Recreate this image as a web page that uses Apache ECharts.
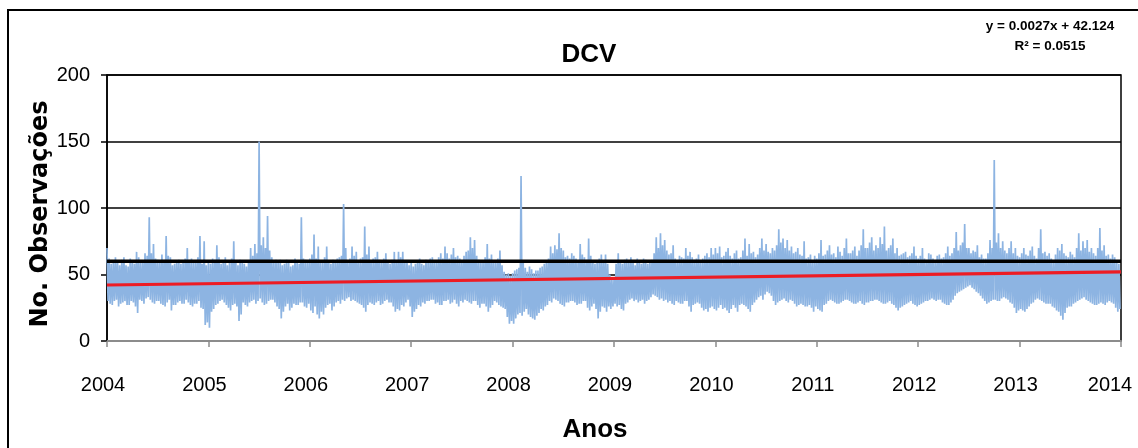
<!DOCTYPE html>
<html>
<head>
<meta charset="utf-8">
<script src="https://cdn.jsdelivr.net/npm/echarts@6/dist/echarts.min.js"></script>
<style>
html,body{margin:0;padding:0;background:#fff;}
#c{width:1138px;height:448px;}
</style>
</head>
<body>
<div id="c"></div>
<script>
// Tick labels (years)
const yearLabels = ['2004','2005','2006','2007','2008','2009','2010','2011','2012','2013','2014'];
const y2004 = [70,30,58,27,63,31,57,28,63,30,56,27,60,29,67,21,59,30,66,32,93,31,73,28,61,30,65,27,79,29,63,23,58,27,61,30,59,28,70,29,62,26,60,28,79,25,75,12];
const y2005 = [60,10,62,24,72,28,58,31,63,27,59,23,75,28,57,15,60,29,56,26,70,30,73,28,150,32,78,27,94,30,63,31,61,26,61,17,58,26,59,23,57,28,60,27,93,29,61,25];
const y2006 = [62,23,80,26,71,17,60,20,71,27,58,23,60,29,63,28,103,30,59,33,71,31,67,29,62,27,86,22,71,29,62,27,67,30,60,28,66,31,58,29,67,22,67,23,67,26,60,31];
const y2007 = [60,18,58,24,62,26,57,28,59,30,63,31,60,29,66,27,71,30,62,28,70,31,64,26,60,29,67,30,78,28,76,30,61,25,60,28,73,22,65,27,59,29,68,26,52,24,51,13];
const y2008 = [51,13,54,20,124,19,55,24,56,18,51,16,53,21,56,23,60,27,71,29,72,31,81,28,68,26,64,29,66,30,62,27,73,28,63,30,77,23,60,28,59,17,65,26,65,22,50,24];
const y2009 = [46,28,66,27,58,23,62,29,63,32,57,31,60,30,62,28,58,31,61,35,78,33,81,32,76,31,65,30,72,27,60,29,63,28,70,30,67,22,61,28,65,28,62,23,66,22,70,26];
const y2010 = [70,23,71,27,64,25,70,21,62,27,68,22,63,28,77,26,73,22,67,29,65,33,77,31,73,37,66,34,68,27,84,30,77,32,76,29,71,30,67,26,65,28,75,26,63,27,60,22];
const y2011 = [62,24,76,22,65,28,72,31,66,29,71,28,64,30,77,31,66,29,71,28,68,30,84,27,70,29,78,30,72,31,78,29,86,28,70,30,77,27,70,23,65,26,67,28,64,30,71,27];
const y2012 = [62,27,70,29,61,30,65,32,60,30,65,31,63,28,71,27,66,31,82,36,72,38,88,40,70,42,68,39,72,36,65,32,62,28,76,30,136,31,81,30,75,33,66,31,75,28,70,21];
const y2013 = [63,24,70,22,64,26,71,29,62,32,84,30,67,28,66,28,60,25,70,22,73,16,64,25,67,26,63,29,81,31,75,33,76,30,70,28,64,27,85,29,72,27,65,30,65,28,60,22];
const e2004 = [62,28,59,30,60,26,61,29,57,27,62,30,58,26,63,31,60,28,64,33,66,29,62,30,59,28,61,26,64,31,57,27,60,29,58,28,62,31,61,27,59,28,63,30,58,24,57,14];
const e2005 = [58,22,61,27,63,30,60,29,57,25,62,27,59,26,61,20,58,27,60,29,64,31,66,30,72,29,70,28,68,31,59,29,60,24,57,22,61,28,56,25,62,27,58,29,62,26,60,28];
const e2006 = [65,21,62,20,59,22,63,25,60,28,61,26,62,30,64,31,70,32,62,30,64,30,60,28,63,25,65,27,60,28,63,29,61,27,62,30,59,29,61,26,60,24,63,27,60,29,57,26];
const e2007 = [56,22,60,27,58,29,61,30,62,31,60,28,63,27,62,30,66,31,65,29,63,28,62,30,64,31,68,29,70,30,64,27,59,28,63,26,62,25,60,30,62,27,57,25,50,18,49,15];
const e2008 = [53,17,55,21,60,22,52,20,54,17,53,19,55,24,58,26,62,30,66,32,69,30,70,27,63,29,62,30,64,29,60,28,65,30,61,25,64,26,58,24,62,22,60,25,58,26,46,26];
const e2009 = [58,26,60,24,61,28,59,31,60,30,62,29,58,31,61,30,60,33,66,34,70,31,72,30,68,29,66,28,62,30,64,28,62,30,64,26,63,27,62,29,60,25,64,24,63,25,65,24];
const e2010 = [66,25,63,24,67,23,64,24,66,25,62,27,68,27,64,24,66,27,63,31,70,34,68,35,67,36,70,30,72,29,74,31,70,30,68,31,66,28,70,27,64,27,62,26,65,25,64,26];
const e2011 = [66,23,64,27,68,30,65,30,63,28,67,29,70,31,66,30,68,28,64,29,72,28,70,29,74,30,68,31,70,30,73,28,68,29,72,28,66,25,64,25,66,27,63,29,66,28,64,26];
const e2012 = [64,28,62,30,66,31,62,31,64,31,62,29,66,27,64,29,70,34,68,37,74,39,70,41,66,40,67,37,63,34,62,30,66,29,70,31,74,30,70,32,68,32,70,29,66,25,64,23];
const e2013 = [66,23,65,24,68,28,64,31,70,31,66,29,64,28,62,26,65,23,68,19,66,21,63,26,65,28,70,30,68,32,70,31,67,29,66,27,70,28,68,28,64,29,62,29,63,25,58,24];
// Threshold line and linear trend (y = 0.0027x + 42.124, x in days)
const thresholdValue = [60, 60];
const trendDays = [0, 3652];
const trendValues = [42.1, 52.0];

const mainSets = [y2004,y2005,y2006,y2007,y2008,y2009,y2010,y2011,y2012,y2013];
const extraSets = [e2004,e2005,e2006,e2007,e2008,e2009,e2010,e2011,e2012,e2013];
const YEAR = 365.25;
const obs = [];
mainSets.forEach((a, yi) => {
  const e = extraSets[yi];
  const seq = [];
  for (let k = 0; k < a.length / 2; k++) seq.push(a[2 * k], a[2 * k + 1], e[2 * k], e[2 * k + 1]);
  seq.forEach((v, j) => obs.push([yi * YEAR + j * YEAR / seq.length, v]));
});
const END = YEAR * 10;

const sans = '"Liberation Sans",Arial,sans-serif';
const chart = echarts.init(document.getElementById('c'), null, {renderer: 'canvas'});
chart.setOption({
  animation: false,
  backgroundColor: '#fff',
  grid: {left: 107, right: 17, top: 75, bottom: 107, containLabel: false, outerBoundsMode: 'none',
         show: true, borderColor: '#000', borderWidth: 1.5, backgroundColor: 'transparent'},
  xAxis: {
    type: 'value', min: 0, max: END, interval: YEAR,
    axisLine: {show: true, lineStyle: {color: '#8c8c8c', width: 2}},
    axisTick: {show: true, length: 6, lineStyle: {color: '#8c8c8c', width: 1.5}},
    splitLine: {show: false},
    axisLabel: {
      margin: 34, color: '#000', fontSize: 20, fontFamily: sans,
      formatter: v => {
        const i = Math.round(v / YEAR);
        return i === yearLabels.length - 1 ? '{e|' + yearLabels[i] + '}' : '{a|' + yearLabels[i] + '}';
      },
      rich: {
        a: {fontSize: 20, fontFamily: sans, color: '#000', padding: [0, 8, 0, 0]},
        e: {fontSize: 20, fontFamily: sans, color: '#000', padding: [0, 22, 0, 0]}
      }
    }
  },
  yAxis: {
    type: 'value', min: 0, max: 200, interval: 50,
    axisLine: {show: true, lineStyle: {color: '#000', width: 1.5}},
    axisTick: {show: true, length: 6, lineStyle: {color: '#000', width: 1.5}},
    splitLine: {show: true, lineStyle: {color: '#000', width: 1.5}},
    axisLabel: {margin: 17, color: '#000', fontSize: 20, fontFamily: sans}
  },
  series: [
    {
      type: 'line', data: obs, symbol: 'none', sampling: false, z: 2,
      lineStyle: {color: '#8db4e2', width: 1.7}
    },
    {
      type: 'line', data: [[0, thresholdValue[0]], [END, thresholdValue[1]]], symbol: 'none', z: 3,
      lineStyle: {color: '#000', width: 3.5}
    },
    {
      type: 'line', data: trendDays.map((d, i) => [d, trendValues[i]]), symbol: 'none', z: 4,
      lineStyle: {color: '#ed1c24', width: 3.2}
    }
  ],
  graphic: [
    {type: 'rect', shape: {x: 8, y: 10, width: 1160, height: 470}, style: {fill: 'none', stroke: '#000', lineWidth: 2}, silent: true, z: 0},
    {type: 'text', x: 589, y: 55, style: {text: 'DCV', fill: '#000', font: 'bold 26px ' + sans, textAlign: 'center', textVerticalAlign: 'middle'}},
    {type: 'text', x: 595, y: 430, style: {text: 'Anos', fill: '#000', font: 'bold 26px ' + sans, textAlign: 'center', textVerticalAlign: 'middle'}},
    {type: 'text', x: 41, y: 214, rotation: Math.PI / 2, style: {text: 'No. Observações', fill: '#000', font: 'bold 24px "DejaVu Sans",sans-serif', textAlign: 'center', textVerticalAlign: 'middle'}},
    {type: 'text', x: 1050, y: 26, style: {text: 'y = 0.0027x + 42.124', fill: '#000', font: 'bold 13.5px ' + sans, textAlign: 'center', textVerticalAlign: 'middle'}},
    {type: 'text', x: 1050, y: 46, style: {text: 'R² = 0.0515', fill: '#000', font: 'bold 13.5px ' + sans, textAlign: 'center', textVerticalAlign: 'middle'}}
  ]
});
</script>
</body>
</html>
